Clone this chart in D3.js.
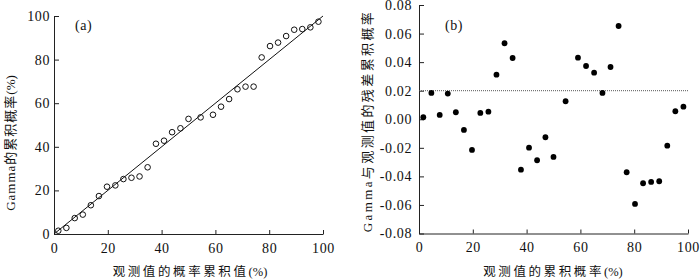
<!DOCTYPE html>
<html><head><meta charset="utf-8">
<script src="https://cdn.jsdelivr.net/npm/d3@7"></script>
<style>
html,body{margin:0;padding:0;background:#fff;}
svg{display:block;}
</style></head>
<body><svg id="c" width="700" height="279"></svg>
<script>
// observed cumulative probability (%) – shared x values
const obsProb = [1.6,4.6,7.7,10.7,13.7,16.7,19.7,22.8,25.8,28.8,31.8,34.8,37.9,40.9,43.9,47.0,50.0,54.5,59.1,62.1,65.1,68.2,71.2,74.2,77.2,80.3,83.3,86.3,89.3,92.3,95.3,98.3];
// panel (a): Gamma cumulative probability (%)
const gammaProb = [1.5,2.8,7.3,8.9,13.2,17.4,21.7,22.3,25.2,25.8,26.4,30.6,41.4,42.8,46.7,48.5,52.8,53.5,54.7,58.4,61.9,66.4,67.6,67.6,81.0,86.2,87.8,90.8,93.7,94.0,94.8,97.4];
// panel (b): residual of cumulative probability
const residual = [0.0014,0.0184,0.003,0.018,0.0049,-0.0075,-0.0215,0.0044,0.0053,0.0312,0.0532,0.0429,-0.0353,-0.0199,-0.0287,-0.0126,-0.0264,0.0126,0.0431,0.0373,0.0326,0.0184,0.0366,0.0653,-0.0371,-0.0593,-0.0448,-0.0439,-0.0434,-0.0185,0.0056,0.0088];
const xTicks = [0,20,40,60,80,100];
const yTicksA = [0,20,40,60,80,100];
const yTicksB = [-0.08,-0.06,-0.04,-0.02,0,0.02,0.04,0.06,0.08];
const refLine = [0.02];
const titles = {
  ax:["观测值的概率累积值","(%)"], ay:["Gamma的累积概率","(%)"],
  bx:["观测值的累积概率","(%)"], by:["Gamma与观测值的残差累积概率",""]
};

const svg = d3.select("#c");
const FS = 14;
const FONT = "'Liberation Serif','Times New Roman','Noto Sans CJK SC',serif";

function styleAxis(g){
  g.attr("font-family",null).attr("font-size",null);
  g.selectAll("path,line").attr("stroke","#222").attr("stroke-width",1);
  g.selectAll("text").style("font-size",FS+"px").attr("fill","#111")
   .style("font-family",FONT).style("letter-spacing","0.6px");
}
function title(g, parts, fs, ls){
  const t = g.append("text").style("font-family",FONT).style("font-size",fs+"px").attr("fill","#111");
  if (typeof parts === "string") { t.style("letter-spacing",ls+"px").text(parts); return t; }
  t.append("tspan").style("letter-spacing",ls+"px").text(parts[0]);
  if (parts[1]) t.append("tspan").style("letter-spacing","0px").text(parts[1]);
  return t;
}

// ---------- panel (a)
const xa = d3.scaleLinear().domain([0,100]).range([54,323]);
const ya = d3.scaleLinear().domain([0,100]).range([234,16]);
const ga = svg.append("g");
ga.append("g").attr("transform","translate(0,234)")
  .call(d3.axisBottom(xa).tickValues(xTicks).tickSizeInner(-4).tickSizeOuter(0).tickPadding(9))
  .call(styleAxis);
ga.append("g").attr("transform","translate(54,0)")
  .call(d3.axisLeft(ya).tickValues(yTicksA).tickSizeInner(-5).tickSizeOuter(0).tickPadding(4))
  .call(styleAxis);
ga.append("line").attr("x1",xa(0)).attr("y1",ya(0)).attr("x2",xa(100)).attr("y2",ya(100))
  .attr("stroke","#111").attr("stroke-width",1);
ga.selectAll("circle").data(obsProb).join("circle")
  .attr("cx",d=>xa(d)).attr("cy",(d,i)=>ya(gammaProb[i])).attr("r",2.8)
  .attr("fill","none").attr("stroke","#111").attr("stroke-width",1);
title(ga,"(a)",FS,0.5).attr("x",75).attr("y",30);
title(ga,titles.ax,12.5,2.6).attr("x",190).attr("y",276).attr("text-anchor","middle");
title(ga,titles.ay,13,1).attr("transform","translate(15,143) rotate(-90)").attr("text-anchor","middle");

// ---------- panel (b)
const xb = d3.scaleLinear().domain([0,100]).range([419,688]);
const yb = d3.scaleLinear().domain([-0.08,0.08]).range([233.5,5]);
const gb = svg.append("g");
gb.append("g").attr("transform","translate(0,233.5)")
  .call(d3.axisBottom(xb).tickValues(xTicks).tickSizeInner(-4).tickSizeOuter(0).tickPadding(9))
  .call(styleAxis);
gb.append("g").attr("transform","translate(419,0)")
  .call(d3.axisLeft(yb).tickValues(yTicksB).tickFormat(d=>d.toFixed(2)).tickSizeInner(-5).tickSizeOuter(0).tickPadding(7))
  .call(styleAxis);
gb.selectAll("line.ref").data(refLine).join("line").attr("class","ref")
  .attr("x1",xb(0)).attr("x2",xb(100)).attr("y1",d=>yb(d)).attr("y2",d=>yb(d))
  .attr("stroke","#555").attr("stroke-width",1).attr("stroke-dasharray","1,1");
gb.selectAll("circle").data(obsProb).join("circle")
  .attr("cx",d=>xb(d)).attr("cy",(d,i)=>yb(residual[i])).attr("r",2.9)
  .attr("fill","#000");
title(gb,"(b)",FS,0.5).attr("x",445).attr("y",30);
title(gb,titles.bx,12.5,2.6).attr("x",553).attr("y",276).attr("text-anchor","middle");
title(gb,titles.by,13,2.4).attr("transform","translate(372,121) rotate(-90)").attr("text-anchor","middle");
</script></body></html>
